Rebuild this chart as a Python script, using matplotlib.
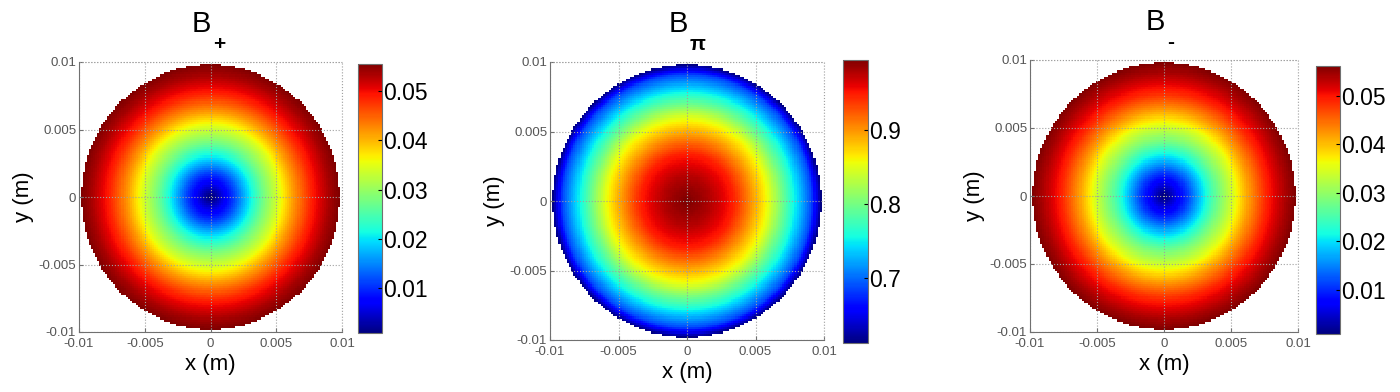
import numpy as np
import matplotlib
matplotlib.use("Agg")
import matplotlib.pyplot as plt

plt.rcParams['font.family'] = ['Liberation Sans', 'DejaVu Sans']

# radial profiles (radius in m)
radius = [0.0, 0.00175, 0.0030, 0.0040, 0.0052, 0.0063, 0.0076, 0.0090, 0.0098]
b_plus = [0.0002, 0.0110, 0.0205, 0.0275, 0.0345, 0.0415, 0.0485, 0.0535, 0.0555]
b_minus = [0.0002, 0.0112, 0.0208, 0.0278, 0.0350, 0.0420, 0.0490, 0.0540, 0.0562]

radius_pi = [0.0, 0.00176, 0.0034, 0.0047, 0.0060, 0.0069, 0.0078, 0.0091, 0.0098]
b_pi = [0.995, 0.976, 0.947, 0.900, 0.850, 0.800, 0.755, 0.687, 0.612]

subscripts = ['+', 'π', '-']
cbar_ticks = [[0.01, 0.02, 0.03, 0.04, 0.05],
              [0.7, 0.8, 0.9],
              [0.01, 0.02, 0.03, 0.04, 0.05]]
ticks = [-0.01, -0.005, 0, 0.005, 0.01]
tick_labels = ['-0.01', '-0.005', '0', '0.005', '0.01']
disk_r = 0.0098

# grid of cells like the original mesh
edges = np.linspace(-0.01, 0.01, 131)
centres = (edges[:-1] + edges[1:]) / 2
X, Y = np.meshgrid(centres, centres)
R = np.sqrt(X**2 + Y**2)

fig = plt.figure(figsize=(14, 3.92), dpi=100)

# axes/colorbar positions in pixels: (left, top, right, bottom)
ax_px = [(79, 62, 342, 332), (550, 62, 824, 340), (1030, 60, 1298, 332)]
cb_px = [(358, 64, 382, 333), (843, 60, 868, 343), (1316, 66, 1340, 334)]


def frac(box):
    l, t, r, b = box
    return [l / 1400, 1 - b / 392, (r - l) / 1400, (b - t) / 392]


profiles = [(radius, b_plus), (radius_pi, b_pi), (radius, b_minus)]
grid_kw = dict(linestyle=':', color='#a0a0a0', linewidth=0.8)

for i in range(3):
    rr, vals = profiles[i]
    Z = np.interp(R, rr, vals)
    Z = np.ma.masked_where(R > disk_r, Z)

    ax = fig.add_axes(frac(ax_px[i]))
    mesh = ax.pcolormesh(edges, edges, Z, cmap='jet', shading='flat')
    ax.set_xlim(-0.01, 0.01)
    ax.set_ylim(-0.01, 0.01)
    ax.set_xticks(ticks)
    ax.set_yticks(ticks)
    ax.set_xticklabels(tick_labels)
    ax.set_yticklabels(tick_labels)
    ax.tick_params(direction='in', length=3, labelsize=9.5, colors='#707070',
                   labelcolor='#555555')
    ax.tick_params(axis='x', pad=4)
    ax.tick_params(axis='y', pad=2)
    ax.grid(True, **grid_kw)
    for s in ['top', 'right']:
        ax.spines[s].set_visible(False)
    for s in ['left', 'bottom']:
        ax.spines[s].set_color('#707070')
    # dotted grid lines along the upper/right limits
    ax.axhline(0.01, clip_on=False, **grid_kw)
    ax.axvline(0.01, clip_on=False, **grid_kw)
    ax.set_xlabel('x (m)', fontsize=16, labelpad=3)
    ax.set_ylabel('y (m)', fontsize=16, labelpad=3)

    # title "B" with a low subscript, as in the original
    ax.annotate('B', xy=(0.5, 1.0), xycoords='axes fraction',
                xytext=(1, 24), textcoords='offset pixels',
                ha='right', va='bottom', fontsize=21)
    ax.annotate(subscripts[i], xy=(0.5, 1.0), xycoords='axes fraction',
                xytext=(3, 18), textcoords='offset pixels',
                ha='left', va='center', fontsize=15, fontweight='bold')

    cax = fig.add_axes(frac(cb_px[i]))
    cb = fig.colorbar(mesh, cax=cax, ticks=cbar_ticks[i])
    cb.ax.tick_params(labelsize=16.5, length=3, direction='in', pad=1)
    cb.outline.set_edgecolor('#707070')

fig.savefig('out.png', dpi=100)
